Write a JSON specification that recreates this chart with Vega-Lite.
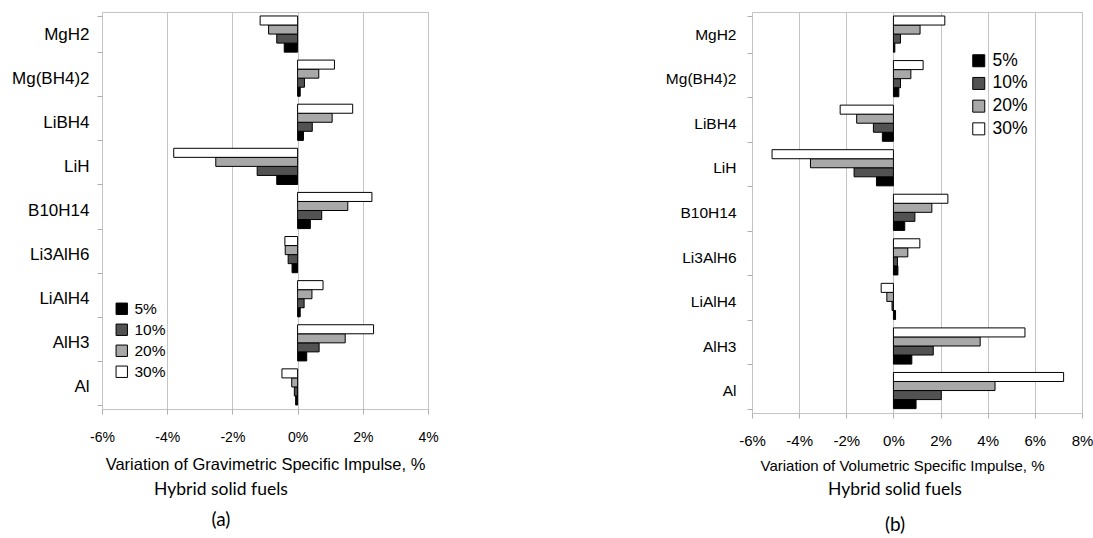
{
  "$schema": "https://vega.github.io/schema/vega-lite/v6.json",
  "background": "white",
  "padding": {"left": 11, "top": 2, "right": 5, "bottom": 5},
  "config": {
    "font": "Liberation Sans",
    "view": {"stroke": "#c4c4c4", "strokeWidth": 1},
    "axis": {"labelFont": "Liberation Sans", "titleFont": "Liberation Sans", "labelColor": "black", "titleColor": "black", "titleFontWeight": "normal", "domain": false, "tickColor": "#b0b0b0", "labelFlush": false},
    "legend": {"labelFont": "Liberation Sans", "symbolType": "square", "symbolStrokeColor": "black", "symbolStrokeWidth": 1, "labelColor": "black"}
  },
  "datasets": {
    "grav": [
      {"fuel": "MgH2", "level": "5%", "value": -0.41}, {"fuel": "MgH2", "level": "10%", "value": -0.64}, {"fuel": "MgH2", "level": "20%", "value": -0.89}, {"fuel": "MgH2", "level": "30%", "value": -1.15},
      {"fuel": "Mg(BH4)2", "level": "5%", "value": 0.08}, {"fuel": "Mg(BH4)2", "level": "10%", "value": 0.21}, {"fuel": "Mg(BH4)2", "level": "20%", "value": 0.65}, {"fuel": "Mg(BH4)2", "level": "30%", "value": 1.13},
      {"fuel": "LiBH4", "level": "5%", "value": 0.18}, {"fuel": "LiBH4", "level": "10%", "value": 0.45}, {"fuel": "LiBH4", "level": "20%", "value": 1.06}, {"fuel": "LiBH4", "level": "30%", "value": 1.69},
      {"fuel": "LiH", "level": "5%", "value": -0.64}, {"fuel": "LiH", "level": "10%", "value": -1.24}, {"fuel": "LiH", "level": "20%", "value": -2.51}, {"fuel": "LiH", "level": "30%", "value": -3.8},
      {"fuel": "B10H14", "level": "5%", "value": 0.39}, {"fuel": "B10H14", "level": "10%", "value": 0.74}, {"fuel": "B10H14", "level": "20%", "value": 1.54}, {"fuel": "B10H14", "level": "30%", "value": 2.28},
      {"fuel": "Li3AlH6", "level": "5%", "value": -0.17}, {"fuel": "Li3AlH6", "level": "10%", "value": -0.29}, {"fuel": "Li3AlH6", "level": "20%", "value": -0.38}, {"fuel": "Li3AlH6", "level": "30%", "value": -0.39},
      {"fuel": "LiAlH4", "level": "5%", "value": 0.08}, {"fuel": "LiAlH4", "level": "10%", "value": 0.2}, {"fuel": "LiAlH4", "level": "20%", "value": 0.44}, {"fuel": "LiAlH4", "level": "30%", "value": 0.78},
      {"fuel": "AlH3", "level": "5%", "value": 0.28}, {"fuel": "AlH3", "level": "10%", "value": 0.66}, {"fuel": "AlH3", "level": "20%", "value": 1.46}, {"fuel": "AlH3", "level": "30%", "value": 2.33},
      {"fuel": "Al", "level": "5%", "value": -0.06}, {"fuel": "Al", "level": "10%", "value": -0.1}, {"fuel": "Al", "level": "20%", "value": -0.18}, {"fuel": "Al", "level": "30%", "value": -0.48}
    ],
    "vol": [
      {"fuel": "MgH2", "level": "5%", "value": 0.06}, {"fuel": "MgH2", "level": "10%", "value": 0.3}, {"fuel": "MgH2", "level": "20%", "value": 1.13}, {"fuel": "MgH2", "level": "30%", "value": 2.18},
      {"fuel": "Mg(BH4)2", "level": "5%", "value": 0.23}, {"fuel": "Mg(BH4)2", "level": "10%", "value": 0.3}, {"fuel": "Mg(BH4)2", "level": "20%", "value": 0.74}, {"fuel": "Mg(BH4)2", "level": "30%", "value": 1.26},
      {"fuel": "LiBH4", "level": "5%", "value": -0.47}, {"fuel": "LiBH4", "level": "10%", "value": -0.85}, {"fuel": "LiBH4", "level": "20%", "value": -1.56}, {"fuel": "LiBH4", "level": "30%", "value": -2.26},
      {"fuel": "LiH", "level": "5%", "value": -0.72}, {"fuel": "LiH", "level": "10%", "value": -1.67}, {"fuel": "LiH", "level": "20%", "value": -3.52}, {"fuel": "LiH", "level": "30%", "value": -5.15},
      {"fuel": "B10H14", "level": "5%", "value": 0.48}, {"fuel": "B10H14", "level": "10%", "value": 0.91}, {"fuel": "B10H14", "level": "20%", "value": 1.63}, {"fuel": "B10H14", "level": "30%", "value": 2.31},
      {"fuel": "Li3AlH6", "level": "5%", "value": 0.19}, {"fuel": "Li3AlH6", "level": "10%", "value": 0.17}, {"fuel": "Li3AlH6", "level": "20%", "value": 0.61}, {"fuel": "Li3AlH6", "level": "30%", "value": 1.12},
      {"fuel": "LiAlH4", "level": "5%", "value": 0.09}, {"fuel": "LiAlH4", "level": "10%", "value": -0.06}, {"fuel": "LiAlH4", "level": "20%", "value": -0.28}, {"fuel": "LiAlH4", "level": "30%", "value": -0.52},
      {"fuel": "AlH3", "level": "5%", "value": 0.78}, {"fuel": "AlH3", "level": "10%", "value": 1.69}, {"fuel": "AlH3", "level": "20%", "value": 3.68}, {"fuel": "AlH3", "level": "30%", "value": 5.58},
      {"fuel": "Al", "level": "5%", "value": 0.96}, {"fuel": "Al", "level": "10%", "value": 2.03}, {"fuel": "Al", "level": "20%", "value": 4.31}, {"fuel": "Al", "level": "30%", "value": 7.22}
    ]
  },
  "bounds": "flush",
  "spacing": 324,
  "resolve": {"legend": {"fill": "independent"}, "scale": {"fill": "independent"}},
  "hconcat": [
    {
      "width": 326,
      "height": 397,
      "data": {"name": "grav"},
      "mark": {"type": "bar", "stroke": "black", "strokeWidth": 1},
      "title": {"text": "Hybrid solid fuels", "subtitle": "(a)", "orient": "bottom", "anchor": "middle", "dx": -44, "offset": 8, "font": "Lato", "fontSize": 17.5, "fontWeight": "normal", "color": "black", "subtitleFont": "Lato", "subtitleFontSize": 19, "subtitleColor": "black", "subtitlePadding": 13},
      "encoding": {
        "y": {"field": "fuel", "type": "nominal", "sort": ["MgH2", "Mg(BH4)2", "LiBH4", "LiH", "B10H14", "Li3AlH6", "LiAlH4", "AlH3", "Al"], "scale": {"paddingInner": 0.18, "paddingOuter": 0.09}, "axis": {"title": null, "tickBand": "extent", "tickSize": 5, "labelFontSize": 17, "labelPadding": 8}},
        "yOffset": {"field": "level", "type": "nominal", "sort": ["30%", "20%", "10%", "5%"], "scale": {"paddingInner": 0, "paddingOuter": 0}},
        "x": {"field": "value", "type": "quantitative", "scale": {"domain": [-6, 4], "nice": false}, "axis": {"values": [-6, -4, -2, 0, 2, 4], "labelExpr": "datum.value + '%'", "title": "Variation of Gravimetric Specific Impulse, %", "titleFontSize": 16.5, "labelFontSize": 14, "tickSize": 5, "labelPadding": 16, "titlePadding": 12, "grid": true, "gridColor": "#c4c4c4"}},
        "fill": {"field": "level", "type": "nominal", "scale": {"domain": ["5%", "10%", "20%", "30%"], "range": ["#000000", "#525252", "#a8a8a8", "#ffffff"]}, "legend": {"title": null, "orient": "none", "legendX": 12, "legendY": 289, "symbolSize": 130, "labelFontSize": 15.5, "labelOffset": 5, "rowPadding": 4}}
      }
    },
    {
      "width": 330,
      "height": 401,
      "data": {"name": "vol"},
      "mark": {"type": "bar", "stroke": "black", "strokeWidth": 1},
      "title": {"text": "Hybrid solid fuels", "subtitle": "(b)", "orient": "bottom", "anchor": "middle", "dx": -22, "offset": 8, "font": "Lato", "fontSize": 17.5, "fontWeight": "normal", "color": "black", "subtitleFont": "Lato", "subtitleFontSize": 19, "subtitleColor": "black", "subtitlePadding": 17},
      "encoding": {
        "y": {"field": "fuel", "type": "nominal", "sort": ["MgH2", "Mg(BH4)2", "LiBH4", "LiH", "B10H14", "Li3AlH6", "LiAlH4", "AlH3", "Al"], "scale": {"paddingInner": 0.18, "paddingOuter": 0.09}, "axis": {"title": null, "tickBand": "extent", "tickSize": 5, "labelFontSize": 15.5, "labelPadding": 11}},
        "yOffset": {"field": "level", "type": "nominal", "sort": ["30%", "20%", "10%", "5%"], "scale": {"paddingInner": 0, "paddingOuter": 0}},
        "x": {"field": "value", "type": "quantitative", "scale": {"domain": [-6, 8], "nice": false}, "axis": {"values": [-6, -4, -2, 0, 2, 4, 6, 8], "labelExpr": "datum.value + '%'", "title": "Variation of Volumetric Specific Impulse, %", "titleFontSize": 15, "titleX": 150, "labelFontSize": 15, "tickSize": 5, "labelPadding": 15, "titlePadding": 10, "grid": true, "gridColor": "#c4c4c4"}},
        "fill": {"field": "level", "type": "nominal", "scale": {"domain": ["5%", "10%", "20%", "30%"], "range": ["#000000", "#525252", "#a8a8a8", "#ffffff"]}, "legend": {"title": null, "orient": "none", "legendX": 218, "legendY": 40, "symbolSize": 144, "labelFontSize": 17.5, "labelOffset": 5, "rowPadding": 3.7}}
      }
    }
  ]
}
